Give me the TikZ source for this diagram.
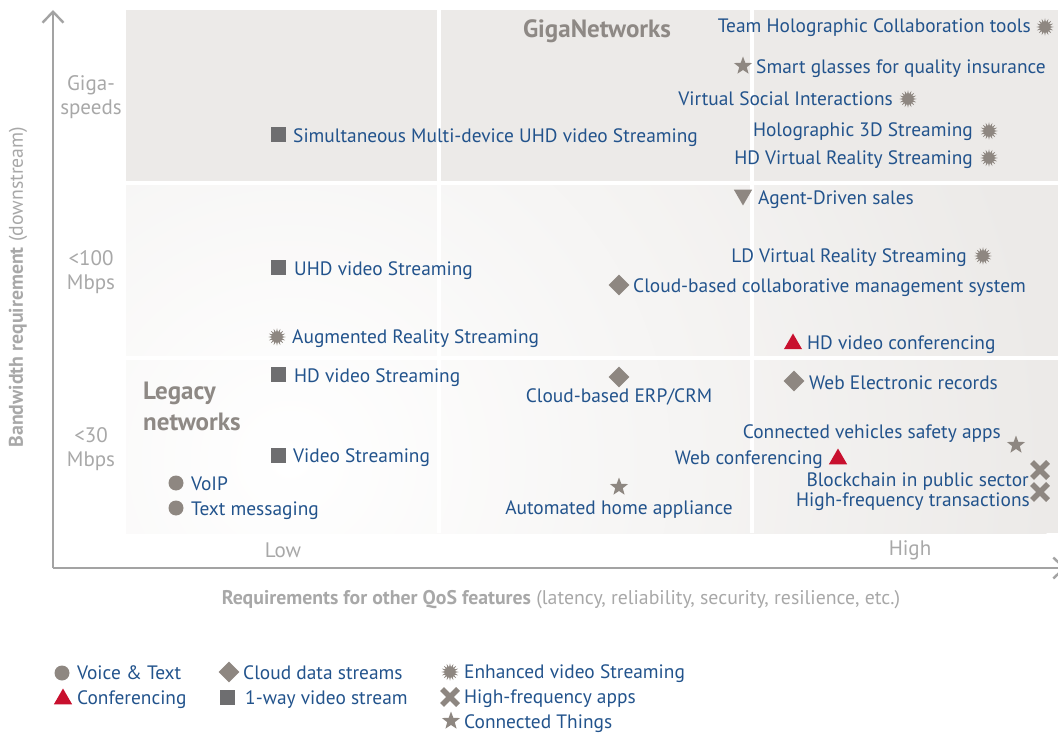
\documentclass[tikz,border=0pt]{standalone}
\usepackage{fontspec}
\setmainfont{PT Sans}
\usetikzlibrary{shapes.geometric,shapes.misc,arrows.meta}
\definecolor{txtblue}{HTML}{22538C}
\definecolor{mkgray}{HTML}{8E8781}
\definecolor{sqgray}{HTML}{6E6E70}
\definecolor{mkred}{HTML}{C8102E}
\definecolor{axgray}{HTML}{A3A3A3}
\definecolor{lbgray}{HTML}{A8A8A8}
\definecolor{hdgray}{HTML}{8E8985}
\definecolor{bgc}{HTML}{ECEAE8}
\newcommand\lf{\fontsize{19.4pt}{22pt}\selectfont}
\newcommand\gf{\fontsize{21pt}{24pt}\selectfont}
\newcommand\hf{\fontsize{25pt}{31pt}\selectfont\bfseries}
\newcommand\af{\fontsize{19.8pt}{22pt}\selectfont}
\tikzset{
  lbl/.style={text=txtblue, font=\lf, inner sep=0pt, text height=13.5pt, text depth=0pt},
  axl/.style={text=lbgray, font=\gf, inner sep=0pt, align=center},
  hd/.style={text=hdgray, font=\hf, inner sep=0pt, align=left},
  sq/.style={rectangle, fill=sqgray, minimum size=15pt, inner sep=0pt},
  dotmk/.style={circle, fill=mkgray, minimum size=15pt, inner sep=0pt},
  dia/.style={diamond, fill=mkgray, minimum size=21pt, inner sep=0pt},
  tri/.style={regular polygon, regular polygon sides=3, fill=mkred, minimum size=21pt, inner sep=0pt},
  dtri/.style={regular polygon, regular polygon sides=3, shape border rotate=180, fill=mkgray, minimum size=21pt, inner sep=0pt},
  starmk/.style={star, star points=5, star point ratio=2.4, fill=mkgray, minimum size=19pt, inner sep=0pt},
  burst/.style={star, star points=16, star point ratio=1.8, fill=mkgray, minimum size=17.5pt, inner sep=0pt},
  xmk/.style={cross out, draw=mkgray, line width=5.5pt, minimum size=10.5pt, inner sep=0pt},
  axis/.style={draw=axgray, line width=2.6pt},
}
\begin{document}
\begin{tikzpicture}[x=1pt,y=-1pt]
\useasboundingbox (0,0) rectangle (1058,735);
% background cells
\fill[bgc] (126,10) rectangle (1058,533);
\begin{scope}
  \clip (126,186) rectangle (1058,533);
  \shade[inner color=white, outer color=bgc] (290,460) circle (760);
\end{scope}
\draw[white, line width=4pt] (439,10) -- (439,533);
\draw[white, line width=4pt] (752,10) -- (752,533);
\draw[white, line width=4pt] (126,183.5) -- (1058,183.5);
\draw[white, line width=4pt] (126,358) -- (1058,358);
% axes
\coordinate (o) at (53,568);
\coordinate (ytop) at (53,10);
\coordinate (xend) at (1066,568);
\draw[axis, -{Straight Barb[length=11pt,width=21pt,line width=2.4pt]}] (o) -- (ytop);
\draw[axis, -{Straight Barb[length=11pt,width=21pt,line width=2.4pt]}] (o) -- (xend);
% axis labels
\node[axl] (gs) at (91,97) {Giga-\\speeds};
\node[axl] (m100) at (91,272) {<100\\Mbps};
\node[axl] (m30) at (91,449) {<30\\Mbps};
\node[axl] (low) at (283,550) {Low};
\node[axl] (high) at (910,550) {High};
\node[text=lbgray, font=\af, inner sep=0pt, rotate=90] (ytitle) at (18,287) {\textbf{Bandwidth requirement} (downstream)};
\node[text=lbgray, font=\af, inner sep=0pt] (xtitle) at (561,600) {\textbf{Requirements for other QoS features} (latency, reliability, security, resilience, etc.)};
% headings
\node[hd] (giga) at (597,31) {GigaNetworks};
\node[hd, anchor=north west] (legacy) at (143,382) {Legacy\\networks};
% top row
\node[burst] (m1) at (1045,27) {};
\node[lbl, anchor=east] (t1) at (1031,26) {Team Holographic Collaboration tools};
\node[starmk] (m2) at (743,66) {};
\node[lbl, anchor=west] (t2) at (756,67) {Smart glasses for quality insurance};
\node[burst] (m3) at (908,99) {};
\node[lbl, anchor=east] (t3) at (893,99) {Virtual Social Interactions};
\node[burst] (m4) at (989,131) {};
\node[lbl, anchor=east] (t4) at (973,130) {Holographic 3D Streaming};
\node[burst] (m5) at (989,158) {};
\node[lbl, anchor=east] (t5) at (973,158) {HD Virtual Reality Streaming};
\node[sq] (m6) at (278,135) {};
\node[lbl, anchor=west] (t6) at (293,136) {Simultaneous Multi-device UHD video Streaming};
% middle row
\node[dtri] (m7) at (743,195) {};
\node[lbl, anchor=west] (t7) at (758,198) {Agent-Driven sales};
\node[burst] (m8) at (983,256) {};
\node[lbl, anchor=east] (t8) at (967,256) {LD Virtual Reality Streaming};
\node[dia] (m9) at (619,285) {};
\node[lbl, anchor=west] (t9) at (633,286) {Cloud-based collaborative management system};
\node[tri] (m10) at (793,344) {};
\node[lbl, anchor=west] (t10) at (807,343) {HD video conferencing};
\node[sq] (m11) at (278,268) {};
\node[lbl, anchor=west] (t11) at (294,269) {UHD video Streaming};
\node[burst] (m12) at (277,337) {};
\node[lbl, anchor=west] (t12) at (292,337) {Augmented Reality Streaming};
% bottom row
\node[sq] (m13) at (278,375) {};
\node[lbl, anchor=west] (t13) at (294,376) {HD video Streaming};
\node[sq] (m14) at (278,455) {};
\node[lbl, anchor=west] (t14) at (293,456) {Video Streaming};
\node[dotmk] (m15) at (176,483) {};
\node[lbl, anchor=west] (t15) at (191,484) {VoIP};
\node[dotmk] (m16) at (176,508) {};
\node[lbl, anchor=west] (t16) at (191,509) {Text messaging};
\node[dia] (m17) at (619,377) {};
\node[lbl] (t17) at (619,396) {Cloud-based ERP/CRM};
\node[starmk] (m18) at (619,487) {};
\node[lbl] (t18) at (619,508) {Automated home appliance};
\node[dia] (m19) at (794,381) {};
\node[lbl, anchor=west] (t19) at (809,383) {Web Electronic records};
\node[lbl, anchor=east] (t20) at (1001,432) {Connected vehicles safety apps};
\node[starmk] (m20) at (1016,445) {};
\node[lbl, anchor=east] (t21) at (823,458) {Web conferencing};
\node[tri] (m21) at (838,459) {};
\node[xmk] (m22) at (1040,470) {};
\node[lbl, anchor=east] (t22) at (1029,480) {Blockchain in public sector};
\node[xmk] (m23) at (1040,492) {};
\node[lbl, anchor=east] (t23) at (1030,500) {High-frequency transactions};
% legend
\node[dotmk] (l1) at (62,673) {};
\node[lbl, anchor=west] (lt1) at (77,673) {Voice \& Text};
\node[tri] (l2) at (63,699) {};
\node[lbl, anchor=west] (lt2) at (77,698) {Conferencing};
\node[dia] (l3) at (229,672) {};
\node[lbl, anchor=west] (lt3) at (243,673) {Cloud data streams};
\node[sq] (l4) at (227,697) {};
\node[lbl, anchor=west] (lt4) at (245,698) {1-way video stream};
\node[burst] (l5) at (450,672) {};
\node[lbl, anchor=west] (lt5) at (464,672) {Enhanced video Streaming};
\node[xmk] (l6) at (450,697) {};
\node[lbl, anchor=west] (lt6) at (464,697) {High-frequency apps};
\node[starmk] (l7) at (451,721) {};
\node[lbl, anchor=west] (lt7) at (464,722) {Connected Things};
\end{tikzpicture}
\end{document}
